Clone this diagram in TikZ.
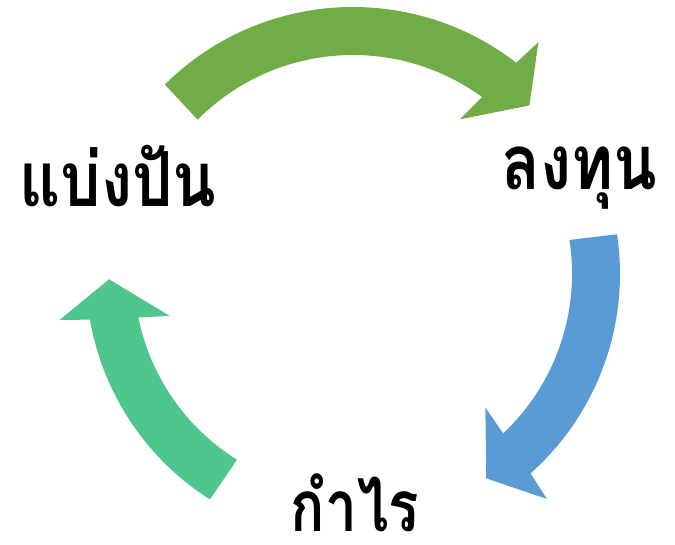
\documentclass[tikz,border=0pt]{standalone}
\usepackage{fontspec}
\usepackage{graphicx}
\usetikzlibrary{calc}
\newfontfamily\thaifont[Script=Thai]{Loma}
\definecolor{arrowgreen}{HTML}{70AD47}
\definecolor{arrowblue}{HTML}{5B9BD5}
\definecolor{arrowteal}{HTML}{4FC68E}
\tikzset{
  lbl/.style={font=\thaifont\bfseries\fontsize{76}{76}\selectfont, anchor=base, inner sep=0pt, text=black},
  lblsmall/.style={lbl, font=\thaifont\bfseries\fontsize{71}{71}\selectfont},
}
\newcommand\squeeze[2]{\raisebox{0pt}[\height][0pt]{\scalebox{#1}[1]{#2}}}
% #1 colour, #2 start angle, #3 end angle of the body
\newcommand\cycarrow[3]{%
  \fill[#1] ($(c)+(#2-0.2:267pt)$)
    arc[start angle=#2-0.2, end angle=#3-0.8, radius=267pt]
    -- ($(c)+(#3-1.75:297pt)$)
    -- ($(c)+(#3-9.4:244pt)$)
    -- ($(c)+(#3+2.25:188pt)$)
    -- ($(c)+(#3+0.8:219pt)$)
    arc[start angle=#3+0.8, end angle=#2+0.2, radius=219pt]
    -- cycle;}
\begin{document}
\begin{tikzpicture}[x=1pt,y=1pt]
\useasboundingbox (0,0) rectangle (675,545);
\coordinate (c) at (353,271);
\cycarrow{arrowgreen}{135}{53.1}
\cycarrow{arrowblue}{8.75}{-47.5}
\cycarrow{arrowteal}{237.8}{190.65}
\node[lbl] (share) at (118,338) {\squeeze{0.84}{แบ่งปัน}};
\node[lbl] (invest) at (579,355) {\squeeze{0.84}{ลงทุน}};
\node[lblsmall] (profit) at (355,13) {\squeeze{0.8}{กำไร}};
\end{tikzpicture}
\end{document}
